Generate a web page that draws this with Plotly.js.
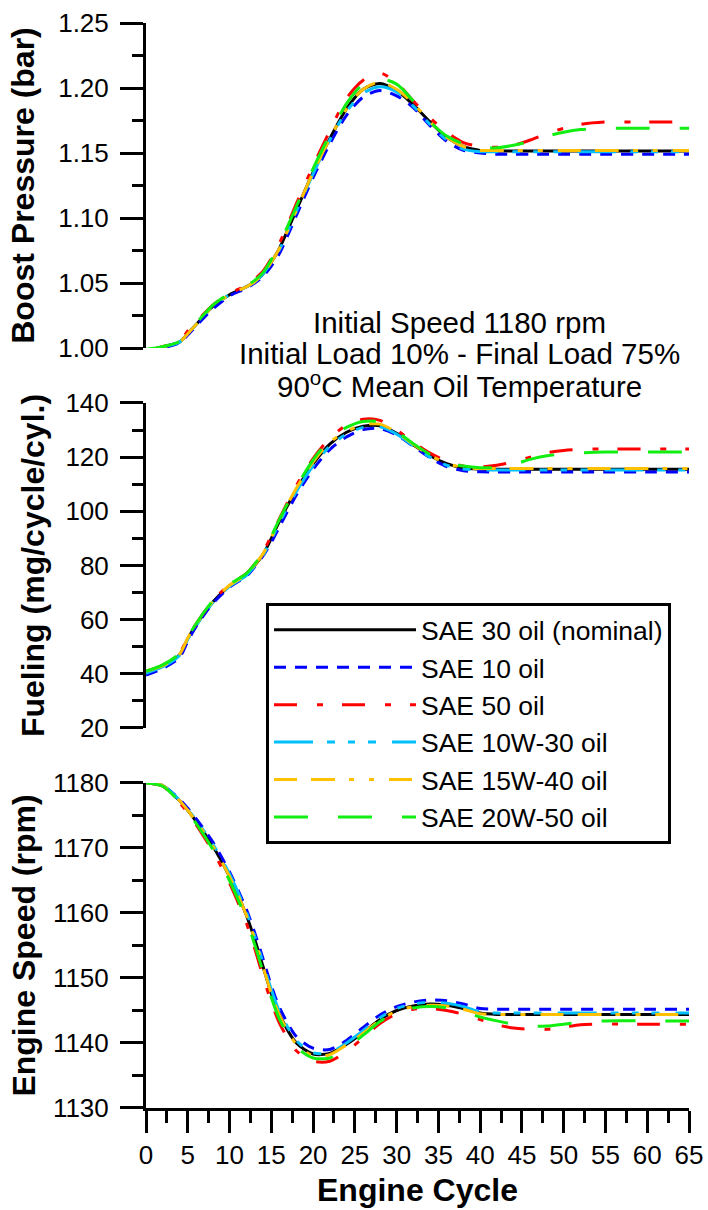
<!DOCTYPE html>
<html>
<head>
<meta charset="utf-8">
<script src="https://cdn.plot.ly/plotly-3.0.1.min.js"></script>
<style>html,body{margin:0;padding:0;background:#fff;}#chart{width:708px;height:1210px;}</style>
</head>
<body>
<div id="chart"></div>
<script>
// ---- data ----
const cycles = [0,2,4,5,6,8,10,12,13,14,15,16,18,20,22,24,26,28,30,32,34,36,38,40,42,44,46,48,50,52,55,60,65];

const seriesNames = ["SAE 30 oil (nominal)","SAE 10 oil","SAE 50 oil","SAE 10W-30 oil","SAE 15W-40 oil","SAE 20W-50 oil"];

const boostSAE30   = [0.998,1.001,1.0045,1.011,1.018,1.032,1.041,1.047,1.051,1.057,1.066,1.077,1.106,1.135,1.161,1.184,1.199,1.2035,1.198,1.187,1.174,1.162,1.155,1.152,1.1515,1.1515,1.1515,1.1515,1.1515,1.1515,1.1515,1.1515,1.1515];
const boostSAE10   = [0.997,1.000,1.004,1.010,1.017,1.030,1.040,1.046,1.050,1.055,1.063,1.073,1.102,1.131,1.157,1.179,1.193,1.198,1.194,1.185,1.171,1.159,1.152,1.150,1.149,1.149,1.149,1.149,1.149,1.149,1.149,1.149,1.149];
const boostSAE50   = [0.998,1.001,1.0055,1.013,1.020,1.033,1.042,1.048,1.053,1.059,1.069,1.081,1.111,1.140,1.167,1.192,1.206,1.2115,1.204,1.190,1.177,1.166,1.158,1.155,1.1545,1.156,1.160,1.165,1.169,1.172,1.1738,1.1738,1.1738];
const boostSAE10W30 = [0.998,1.001,1.0045,1.011,1.018,1.032,1.041,1.047,1.051,1.057,1.066,1.076,1.105,1.134,1.160,1.182,1.196,1.201,1.197,1.186,1.172,1.160,1.153,1.151,1.151,1.151,1.151,1.151,1.151,1.151,1.151,1.151,1.151];
const boostSAE15W40 = [0.998,1.001,1.0045,1.011,1.018,1.032,1.041,1.047,1.051,1.057,1.066,1.077,1.106,1.135,1.161,1.184,1.199,1.2045,1.199,1.188,1.174,1.162,1.155,1.152,1.152,1.152,1.152,1.152,1.152,1.152,1.152,1.152,1.152];
const boostSAE20W50 = [0.999,1.001,1.005,1.012,1.019,1.033,1.042,1.048,1.052,1.058,1.068,1.080,1.109,1.138,1.164,1.188,1.203,1.207,1.203,1.190,1.174,1.163,1.157,1.154,1.154,1.156,1.159,1.163,1.166,1.168,1.169,1.169,1.169];

const fuelSAE30    = [40.5,42.8,47,53,58,66.5,72.5,76.5,80,84,90,96.5,108,117.5,124.8,129.2,131.4,131.6,128.8,124.5,120.5,117.6,116,115.6,115.5,115.5,115.5,115.5,115.5,115.5,115.5,115.5,115.5];
const fuelSAE10    = [39.5,42,46,52,57.5,66,72,76,79.5,83.5,88.5,94.5,106,115.5,122.8,127.5,130.2,130.6,128.2,124,119.8,116.5,115,114.6,114.5,114.5,114.5,114.5,114.5,114.5,114.5,114.5,114.5];
const fuelSAE50    = [40.8,43.2,47.5,53.5,58.5,67,73,77,80.5,85,91,97.5,109.5,119.5,127,131.8,134,133.6,130,125.5,121.5,118.5,116.7,116.4,117,118.3,120,121.6,122.5,122.9,123,123,123];
const fuelSAE10W30 = [40.2,42.6,46.8,52.8,57.8,66.3,72.3,76.3,79.8,83.8,89.5,96,107.3,116.8,124,128.5,131,131.2,128.5,124.2,120,117,115.6,115.3,115.3,115.3,115.3,115.3,115.3,115.3,115.3,115.3,115.3];
const fuelSAE15W40 = [41,43,47.2,53.2,58.2,66.7,72.7,76.7,80.2,84.3,90.3,97,108.5,118.2,125.5,129.5,132,132.2,129.2,124.8,120.7,117.7,116.2,115.8,115.8,115.8,115.8,115.8,115.8,115.8,115.8,115.8,115.8];
const fuelSAE20W50 = [41,43.3,47.5,53.5,58.5,67,73,77,80.5,84.8,90.8,97.2,109,119,126.5,131,133.2,133,129.5,125,121,118,116.7,116.1,116.2,117.3,119.2,120.5,121.2,121.6,121.9,121.9,121.9];

const speedSAE30    = [1180,1179.6,1177.3,1175.8,1174.1,1170.3,1165.6,1159.7,1156,1151.8,1147.6,1144.3,1140.0,1138.3,1138.4,1139.8,1141.6,1143.6,1145.0,1145.7,1146.0,1145.8,1145.3,1144.6,1144.4,1144.4,1144.4,1144.4,1144.4,1144.4,1144.4,1144.4,1144.4];
const speedSAE10    = [1180,1179.6,1177.5,1176.1,1174.5,1170.9,1166.3,1160.6,1157,1153,1148.8,1145.4,1141.0,1139.2,1139.0,1140.4,1142.4,1144.3,1145.6,1146.3,1146.6,1146.5,1146.0,1145.3,1145.2,1145.2,1145.2,1145.2,1145.2,1145.2,1145.2,1145.2,1145.2];
const speedSAE50    = [1180,1179.5,1177.0,1175.4,1173.6,1169.5,1164.6,1158.5,1154.6,1150.3,1146.3,1143.0,1138.8,1137.2,1137.2,1138.7,1140.8,1143.0,1144.5,1145.2,1145.3,1145.0,1144.4,1143.6,1142.8,1142.3,1142.1,1142.1,1142.4,1142.8,1142.9,1142.9,1142.9];
const speedSAE10W30 = [1180,1179.6,1177.4,1175.9,1174.3,1170.6,1166.0,1160.2,1156.5,1152.4,1148.2,1144.8,1140.4,1138.5,1138.5,1140.0,1141.9,1143.9,1145.3,1146.0,1146.3,1146.1,1145.6,1144.8,1144.6,1144.6,1144.6,1144.6,1144.6,1144.6,1144.6,1144.6,1144.6];
const speedSAE15W40 = [1180,1179.6,1177.3,1175.8,1174.1,1170.3,1165.6,1159.7,1156,1151.8,1147.6,1144.2,1139.8,1138.0,1138.2,1139.7,1141.5,1143.5,1144.9,1145.6,1145.8,1145.7,1145.2,1144.5,1144.4,1144.4,1144.4,1144.4,1144.4,1144.4,1144.4,1144.4,1144.4];
const speedSAE20W50 = [1180,1179.5,1177.1,1175.5,1173.8,1169.8,1165.0,1159.0,1155.2,1151,1147,1143.6,1139.4,1137.7,1137.7,1139.2,1141.2,1143.3,1144.8,1145.4,1145.6,1145.4,1144.8,1144.0,1143.4,1142.9,1142.6,1142.6,1142.9,1143.2,1143.4,1143.4,1143.4];

const xTicks = [0,5,10,15,20,25,30,35,40,45,50,55,60,65];

// ---- styles ----
const colors = ["#000000","#0000FF","#FF0000","#00BFFF","#FFC000","#11EE11"];
const dashes = ["solid","12px,9px","23px,20px,6px,19px","39px,14px,8px,13px,7px,13px,8px,16px","23px,14px,24px,14px,5px,15px,5px,15px","34px,30px"];

const boostData = [boostSAE30,boostSAE10,boostSAE50,boostSAE10W30,boostSAE15W40,boostSAE20W50];
const fuelData  = [fuelSAE30,fuelSAE10,fuelSAE50,fuelSAE10W30,fuelSAE15W40,fuelSAE20W50];
const speedData = [speedSAE30,speedSAE10,speedSAE50,speedSAE10W30,speedSAE15W40,speedSAE20W50];

const traces = [];
const panels = [[boostData,'x','y',true],[fuelData,'x2','y2',false],[speedData,'x3','y3',false]];
panels.forEach(([data,xa,ya,show]) => {
  data.forEach((vals,i) => {
    traces.push({
      x: cycles, y: vals, type:'scatter', mode:'lines',
      name: seriesNames[i], legendgroup: 'g'+i, showlegend: show,
      xaxis: xa, yaxis: ya,
      line: {color: colors[i], width: 3, dash: dashes[i], shape:'spline', smoothing: 0.8}
    });
  });
});

const FONT = "Liberation Sans, Arial, Helvetica, sans-serif";
function yax(range, dtick, minorD, domain, title, standoff, fmt){
  return {
    domain: domain, range: range, showline:true, linecolor:'black', linewidth:3,
    ticks:'outside', ticklen:23, tickwidth:3, tickcolor:'black', dtick: dtick, tick0: range[0],
    minor:{dtick: minorD, ticks:'outside', ticklen:11, tickwidth:3, tickcolor:'black', showgrid:false},
    showgrid:false, zeroline:false, tickformat: fmt,
    tickfont:{size:26, color:'black', family:FONT}, ticklabelstandoff: 6,
    title:{text:title, font:{size:32, color:'black', family:FONT, weight:'bold'}, standoff: standoff},
    automargin:false
  };
}

const layout = {
  width:708, height:1210,
  margin:{l:146, r:19, t:23, b:102},
  paper_bgcolor:'white', plot_bgcolor:'white',
  font:{family:FONT, color:'black'},
  showlegend:true,
  legend:{x:0.221, y:0.4654, xanchor:'left', yanchor:'top', bgcolor:'white', bordercolor:'black', borderwidth:3,
          font:{size:26.5, color:'black', family:FONT}, itemwidth:142, tracegroupgap:5, traceorder:'normal',
          entrywidth:263, entrywidthmode:'pixels'},
  xaxis:{domain:[0,1], range:[0,65], matches:'x3', showline:false, showticklabels:false, ticks:'', showgrid:false, zeroline:false, anchor:'y'},
  xaxis2:{domain:[0,1], range:[0,65], matches:'x3', showline:false, showticklabels:false, ticks:'', showgrid:false, zeroline:false, anchor:'y2'},
  xaxis3:{domain:[0,1], range:[0,65], anchor:'y3', showline:true, linecolor:'black', linewidth:3,
          ticks:'outside', ticklen:22, tickwidth:3, tickcolor:'black', tickvals:xTicks, ticktext:xTicks.map(String),
          minor:{dtick:2.5, tick0:0, ticks:'outside', ticklen:12, tickwidth:3, tickcolor:'black', showgrid:false},
          showgrid:false, zeroline:false, tickfont:{size:26, color:'black', family:FONT}, ticklabelstandoff: 0,
          title:{text:'Engine Cycle', font:{size:32, color:'black', family:FONT, weight:'bold'}, standoff: 10}, automargin:false},
  yaxis: Object.assign(yax([1.00,1.25],0.05,0.025,[0.70046,1],'Boost Pressure (bar)',14,'.2f'),{anchor:'x'}),
  yaxis2: Object.assign(yax([20,140],20,10,[0.35023,0.64977],'Fueling (mg/cycle/cyl.)',12,'d'),{anchor:'x2'}),
  yaxis3: Object.assign(yax([1130,1180],10,5,[0,0.29954],'Engine Speed (rpm)',8,'d'),{anchor:'x3'}),
  annotations:[
    {text:'Initial Speed 1180 rpm', xref:'paper', yref:'paper', x:0.578, y:(1108-322)/1085, xanchor:'center', yanchor:'middle', showarrow:false, font:{size:29.5, color:'black', family:FONT}},
    {text:'Initial Load 10% - Final Load 75%', xref:'paper', yref:'paper', x:0.578, y:(1108-353)/1085, xanchor:'center', yanchor:'middle', showarrow:false, font:{size:29.5, color:'black', family:FONT}},
    {text:'90<sup>o</sup>C Mean Oil Temperature', xref:'paper', yref:'paper', x:0.578, y:(1108-384)/1085, xanchor:'center', yanchor:'middle', showarrow:false, font:{size:29.5, color:'black', family:FONT}}
  ]
};

Plotly.newPlot('chart', traces, layout, {displayModeBar:false, staticPlot:true});
</script>
</body>
</html>
